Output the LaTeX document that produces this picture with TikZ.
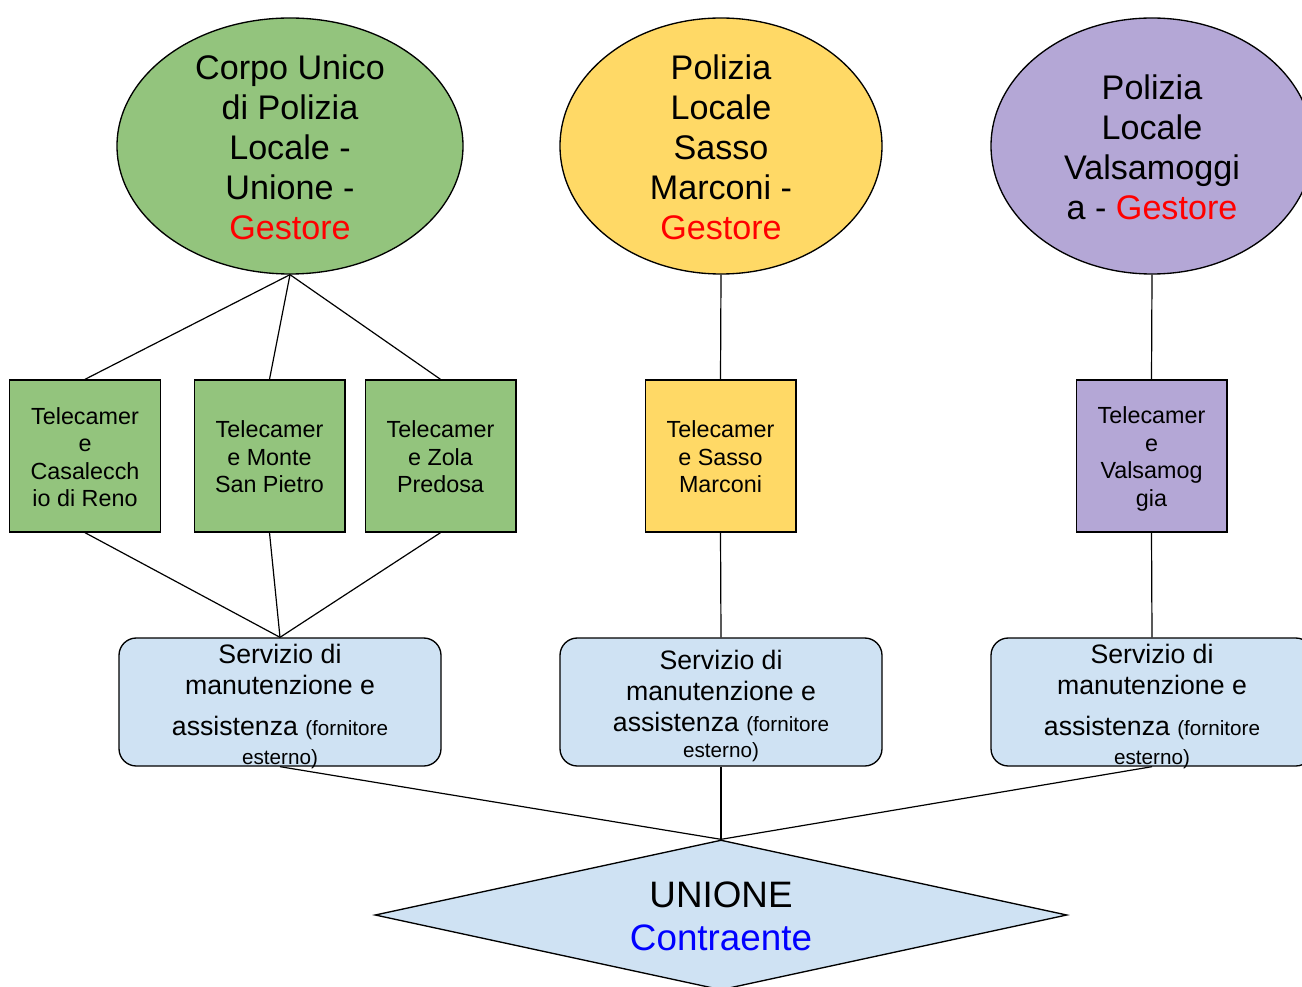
\documentclass[tikz,border=0pt]{standalone}
\usepackage{fontspec}
\setmainfont{Liberation Sans}
\usetikzlibrary{shapes.geometric}
\definecolor{cgreen}{HTML}{93C47D}
\definecolor{cyellow}{HTML}{FFD966}
\definecolor{cpurple}{HTML}{B4A7D6}
\definecolor{cblue}{HTML}{CFE2F3}
\definecolor{cred}{HTML}{FF0000}
\definecolor{cbluetxt}{HTML}{0000FF}
\tikzset{
  ell/.style={draw=black,line width=1pt,ellipse,inner sep=0pt,minimum height=192pt},
  bigtxt/.style={align=center,font=\fontsize{25.6}{30}\selectfont,inner sep=0pt},
  cam/.style={draw=black,line width=1pt,rectangle,inner sep=0pt,minimum width=113pt,minimum height=114pt},
  camtxt/.style={align=center,font=\fontsize{17.5}{20.6}\selectfont,inner sep=0pt},
  serv/.style={draw=black,line width=1pt,rectangle,rounded corners=13pt,fill=cblue,inner sep=0pt,minimum width=241.5pt,minimum height=96pt},
  servtxt/.style={align=center,font=\fontsize{20}{23.25}\selectfont,inner sep=0pt},
  conn/.style={draw=black,line width=0.9pt},
}
\newcommand{\smalltxt}[1]{{\fontsize{15.5}{18}\selectfont #1}}
\begin{document}
\begin{tikzpicture}[x=0.75pt,y=-0.75pt]
\clip (0,0) rectangle (1302,987);
\fill[white] (0,0) rectangle (1302,987);
% ellipses
\node[ell,fill=cgreen,minimum width=259.5pt] (e1) at (290,146) {};
\node[ell,fill=cyellow,minimum width=241.5pt] (e2) at (721,146) {};
\node[ell,fill=cpurple,minimum width=241.5pt] (e3) at (1152,146) {};
\node[bigtxt] (t1) at (290,147) {Corpo Unico\\di Polizia\\Locale -\\Unione -\\\textcolor{cred}{Gestore}};
\node[bigtxt] (t2) at (721,147) {Polizia\\Locale\\Sasso\\Marconi -\\\textcolor{cred}{Gestore}};
\node[bigtxt] (t3) at (1152,147) {Polizia\\Locale\\Valsamoggi\\a - \textcolor{cred}{Gestore}};
% camera boxes
\node[cam,fill=cgreen] (c1) at (85,456) {};
\node[cam,fill=cgreen] (c2) at (269.5,456) {};
\node[cam,fill=cgreen] (c3) at (440.5,456) {};
\node[cam,fill=cyellow] (c4) at (720.5,456) {};
\node[cam,fill=cpurple] (c5) at (1151.5,456) {};
\node[camtxt] at (85,457) {Telecamer\\e\\Casalecch\\io di Reno};
\node[camtxt] at (269.5,457) {Telecamer\\e Monte\\San Pietro};
\node[camtxt] at (440.5,457) {Telecamer\\e Zola\\Predosa};
\node[camtxt] at (720.5,457) {Telecamer\\e Sasso\\Marconi};
\node[camtxt] at (1151.5,459) {Telecamer\\e\\Valsamog\\gia};
% service boxes
\node[serv] (s1) at (280,702) {};
\node[serv] (s2) at (721,702) {};
\node[serv] (s3) at (1152,702) {};
\node[servtxt,anchor=north] at (280,644) {Servizio di\\manutenzione e\\[7.5pt]assistenza \smalltxt{(fornitore}\\[-1.5pt]\smalltxt{esterno)}};
\node[servtxt,anchor=north] at (721,650) {Servizio di\\manutenzione e\\assistenza \smalltxt{(fornitore}\\[-3.75pt]\smalltxt{esterno)}};
\node[servtxt,anchor=north] at (1152,644) {Servizio di\\manutenzione e\\[7.5pt]assistenza \smalltxt{(fornitore}\\[-1.5pt]\smalltxt{esterno)}};
% diamond
\node[draw=black,line width=1pt,diamond,fill=cblue,inner sep=0pt,minimum width=519pt,minimum height=112.5pt] (u) at (721,915) {};
\node[align=center,inner sep=0pt,font=\fontsize{27.6}{32}\selectfont] at (721,916) {UNIONE\\\textcolor{cbluetxt}{Contraente}};
% connectors
\draw[conn] (e1.south) -- (c1.north);
\draw[conn] (e1.south) -- (c2.north);
\draw[conn] (e1.south) -- (c3.north);
\draw[conn] (e2.south) -- (c4.north);
\draw[conn] (e3.south) -- (c5.north);
\draw[conn] (c1.south) -- (s1.north);
\draw[conn] (c2.south) -- (s1.north);
\draw[conn] (c3.south) -- (s1.north);
\draw[conn] (c4.south) -- (s2.north);
\draw[conn] (c5.south) -- (s3.north);
\draw[conn] (s1.south) -- (u.north);
\draw[conn] (s2.south) -- (u.north);
\draw[conn] (s3.south) -- (u.north);
\end{tikzpicture}
\end{document}
